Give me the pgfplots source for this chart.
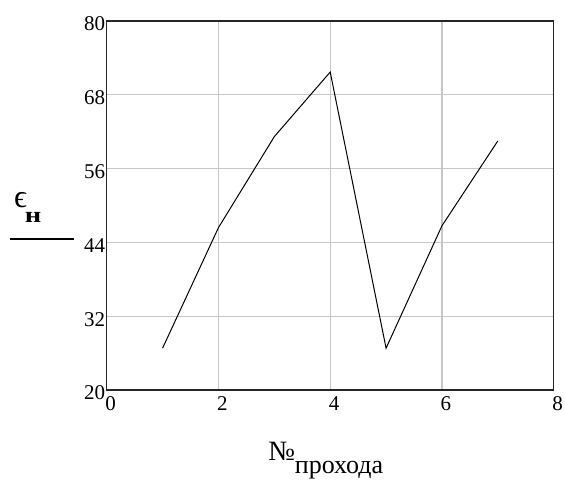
\documentclass[border=0pt]{standalone}
\usepackage{fontspec}
\setmainfont{Liberation Serif}
\usepackage{pgfplots}
\pgfplotsset{compat=1.18}
\begin{document}
\begin{tikzpicture}
\begin{axis}[
  name=ax,
  at={(0,0)}, anchor=south west,
  scale only axis,
  width=447pt, height=369pt,
  xmin=0, xmax=8, ymin=20, ymax=80,
  xtick={0,2,4,6,8},
  ytick={20,32,44,56,68,80},
  grid=major,
  major grid style={draw=black!22, line width=1.2pt},
  axis line style={draw=black!85, line width=1.3pt},
  major tick length=0pt,
  tick label style={font=\fontsize{21}{23}\selectfont},
  xticklabel style={yshift=-3pt, xshift=4pt},
  yticklabel style={xshift=2pt, yshift=-3pt},
  /pgf/number format/assume math mode=true,
  clip=false,
]
\addplot[black, line width=1pt] coordinates {
  (1,26.8) (2,46.4) (3,61.2) (4,71.7) (5,26.8) (6,46.7) (7,60.5)
};
\end{axis}
\node[font=\fontsize{32}{34}\selectfont, inner sep=0pt] at (-86.2pt,190pt) {ϵ};
\node[font=\bfseries\fontsize{22}{24}\selectfont, inner sep=0pt] at (-73.7pt,173pt) {\scalebox{1.3}[1]{н}};
\draw[black, line width=1.2pt] (-96.7pt,151pt) -- (-32.7pt,151pt);
\node[font=\fontsize{28}{30}\selectfont, inner sep=0pt, anchor=base] at (175pt,-70pt) {№};
\node[font=\fontsize{26}{28}\selectfont, inner sep=0pt, anchor=base west] at (188pt,-83pt) {прохода};
\pgfresetboundingbox
\path (-106.7pt,-90pt) rectangle (458.3pt,369.3pt+20.7pt);
\end{tikzpicture}
\end{document}
